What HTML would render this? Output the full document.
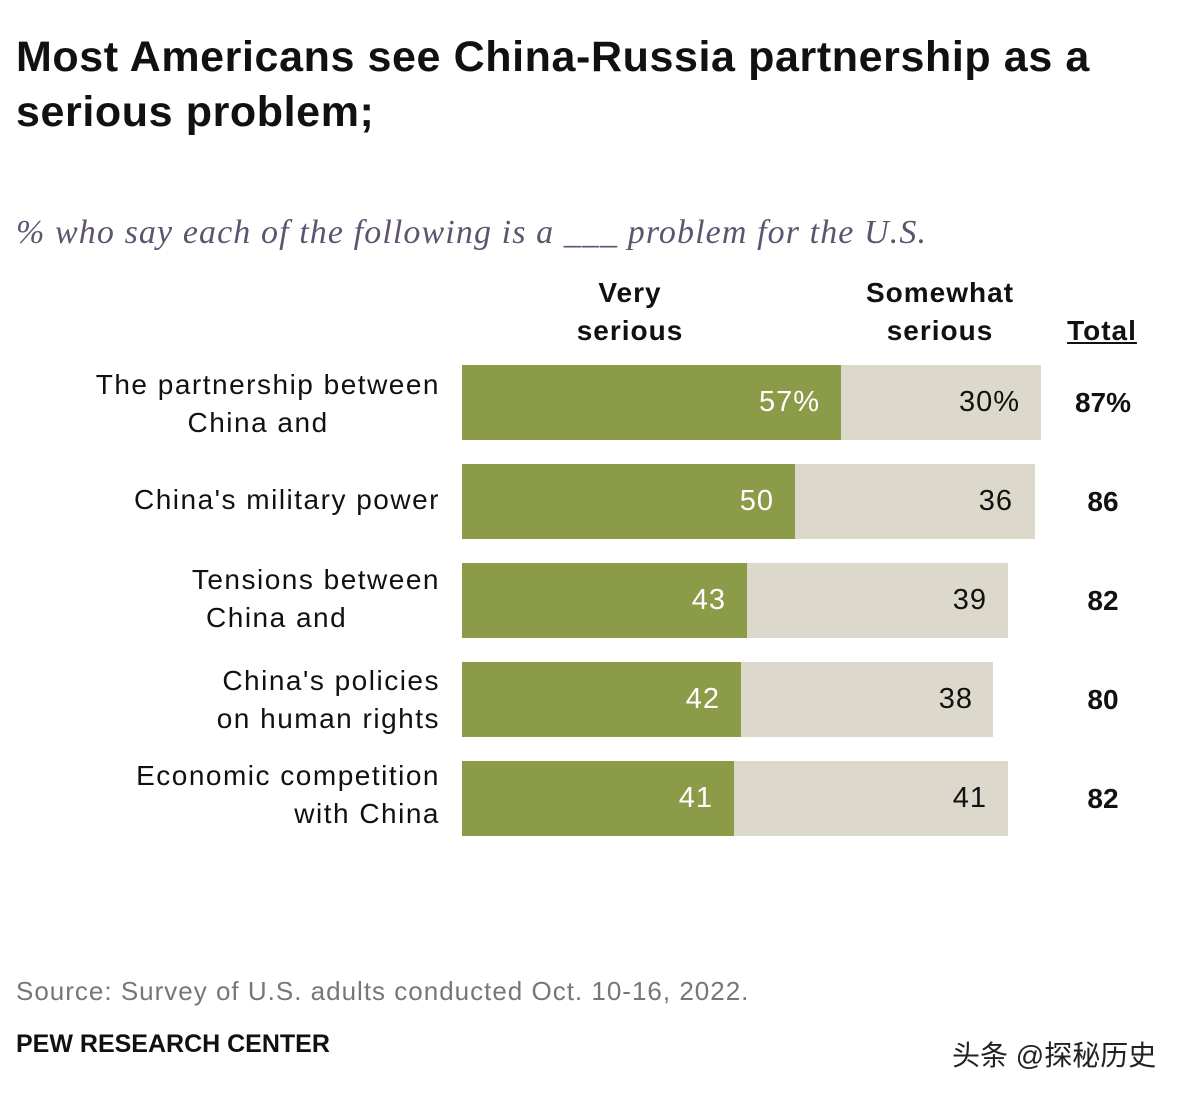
<!DOCTYPE html>
<html><head><meta charset="utf-8"><style>
body{margin:0;width:1200px;height:1096px;background:#fff;position:relative;overflow:hidden;font-family:"Liberation Sans",sans-serif;color:#111}
.a{position:absolute;white-space:nowrap}
.t{font-weight:bold;font-size:43px;letter-spacing:0.6px;left:16px;line-height:55px;top:30px}
.sub{left:16px;top:214px;font-family:"Liberation Serif",serif;font-style:italic;font-size:34px;letter-spacing:1.1px;color:#5e5470}
.h{font-weight:bold;font-size:28px;letter-spacing:1px;text-align:center;line-height:38px}
.lab{font-size:28px;letter-spacing:1.5px;text-align:right;right:760px;line-height:38px}
.g{position:absolute;left:462px;height:75px;background:#8b9b47}
.b{position:absolute;height:75px;background:#dcd8cc}
.v{position:absolute;font-size:29px;letter-spacing:1px;line-height:75px;text-align:right}
.tot{position:absolute;left:1066px;width:74px;text-align:center;font-weight:bold;font-size:28px;line-height:75px}
</style></head><body>
<div class="a t">Most Americans see China-Russia partnership as a<br>serious problem;</div>
<div class="a sub">% who say each of the following is a ___ problem for the U.S.</div>
<div class="a h" style="left:550px;width:160px;top:274px">Very<br>serious</div>
<div class="a h" style="left:840px;width:200px;top:274px">Somewhat<br>serious</div>
<div class="a h" style="left:1060px;width:84px;top:312px;text-decoration:underline">Total</div>

<div class="a lab" style="top:366px">The partnership between<br>China and&nbsp;&nbsp;&nbsp;&nbsp;&nbsp;&nbsp;&nbsp;&nbsp;&nbsp;&nbsp;&nbsp;&nbsp;</div>
<div class="g" style="top:365px;width:379px"></div><div class="b" style="top:365px;left:841px;width:200px"></div>
<div class="v" style="top:365px;left:700px;width:120px;color:#fff">57%</div>
<div class="v" style="top:365px;left:880px;width:140px">30%</div>
<div class="tot" style="top:365px">87%</div>

<div class="a lab" style="top:481px">China's military power</div>
<div class="g" style="top:464px;width:333px"></div><div class="b" style="top:464px;left:795px;width:240px"></div>
<div class="v" style="top:464px;left:650px;width:124px;color:#fff">50</div>
<div class="v" style="top:464px;left:880px;width:133px">36</div>
<div class="tot" style="top:464px">86</div>

<div class="a lab" style="top:561px">Tensions between<br>China and&nbsp;&nbsp;&nbsp;&nbsp;&nbsp;&nbsp;&nbsp;&nbsp;&nbsp;&nbsp;</div>
<div class="g" style="top:563px;width:285px"></div><div class="b" style="top:563px;left:747px;width:261px"></div>
<div class="v" style="top:563px;left:600px;width:126px;color:#fff">43</div>
<div class="v" style="top:563px;left:850px;width:137px">39</div>
<div class="tot" style="top:563px">82</div>

<div class="a lab" style="top:662px">China's policies<br>on human rights</div>
<div class="g" style="top:662px;width:279px"></div><div class="b" style="top:662px;left:741px;width:252px"></div>
<div class="v" style="top:662px;left:600px;width:120px;color:#fff">42</div>
<div class="v" style="top:662px;left:850px;width:123px">38</div>
<div class="tot" style="top:662px">80</div>

<div class="a lab" style="top:757px">Economic competition<br>with China</div>
<div class="g" style="top:761px;width:272px"></div><div class="b" style="top:761px;left:734px;width:274px"></div>
<div class="v" style="top:761px;left:590px;width:123px;color:#fff">41</div>
<div class="v" style="top:761px;left:850px;width:137px">41</div>
<div class="tot" style="top:761px">82</div>

<div class="a" style="left:16px;top:976px;font-size:26px;letter-spacing:1px;color:#777">Source: Survey of U.S. adults conducted Oct. 10-16, 2022.</div>
<div class="a" style="left:16px;top:1030px;font-size:25px;font-weight:bold">PEW RESEARCH CENTER</div>
<div class="a" style="left:952px;top:1034px;font-size:28px;color:#222;font-family:'Liberation Sans','Noto Sans CJK SC',sans-serif">头条 @探秘历史</div>
</body></html>
